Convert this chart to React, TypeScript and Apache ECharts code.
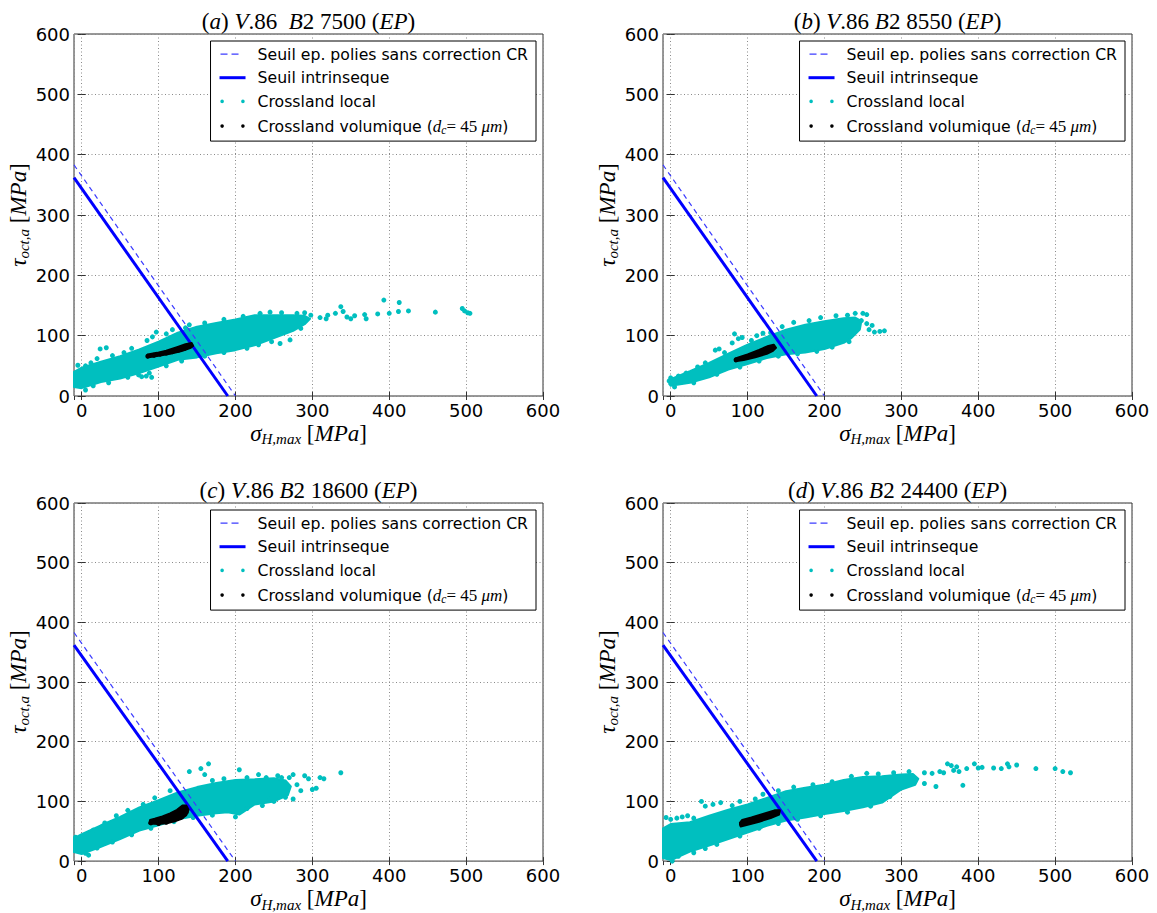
import React, { useEffect, useRef } from 'react';
import * as echarts from 'echarts';

// ---------- data (MPa) ----------
const seriesNames = ['Seuil ep. polies sans correction CR', 'Seuil intrinseque', 'Crossland local', 'Crossland volumique'];
const panelKeys = ['a', 'b', 'c', 'd'];
const panelRuns = ['7500', '8550', '18600', '24400'];
const panelSeps = ['  ', ' ', ' ', ' '];
const yTickValues = [0, 100, 200, 300, 400, 500, 600];

const dashedLine = [[-10, 383], [200, 0]];
const solidLine = [[-10, 362], [190, 0]];

// dense core outline of the local Crossland cloud
const bandA = [[-10, 40], [0, 47], [25, 57], [50, 66], [75, 77], [100, 90], [125, 105], [150, 115], [175, 121], [200, 127], [225, 134], [250, 134], [275, 134], [290, 133], [297, 128], [290, 119], [275, 108], [250, 96], [225, 84], [200, 76], [175, 71], [150, 64], [125, 60], [100, 49], [75, 38], [50, 29], [25, 23], [0, 13], [-10, 15]];
const localA = [[-5, 51], [5, 50], [12, 55], [20, 62], [24, 78], [32, 80], [40, 67], [55, 72], [65, 79], [85, 92], [92, 98], [97, 106], [110, 103], [118, 110], [135, 113], [140, 118], [160, 121], [185, 127], [210, 132], [232, 137], [245, 139], [260, 138], [280, 137], [290, 138], [298, 134],
  [5, 10], [15, 17], [35, 22], [60, 31], [74, 35], [78, 32], [84, 33], [91, 31], [88, 38], [110, 50], [130, 58], [160, 66], [185, 72], [215, 79], [230, 85], [247, 90], [258, 87], [271, 93], [285, 112],
  [310, 130], [318, 128], [320, 134], [330, 137], [337, 148], [340, 140], [345, 131], [350, 128], [355, 133], [368, 135], [370, 128], [385, 136], [393, 159], [400, 137], [412, 140], [413, 155], [425, 141], [460, 139], [495, 145], [498, 141], [502, 138], [505, 137]];
const volA = [[86, 66], [94, 67.6], [102, 69.3], [110, 71.3], [118, 73.5], [126, 76], [134, 79], [141, 82.5]];
const volShapeA = [[85, 64], [100, 66.5], [115, 70], [130, 74.5], [140, 79], [145, 83], [143, 88], [135, 86], [125, 81.5], [110, 75], [98, 71.5], [86, 69]];

const bandB = [[-2, 20], [0, 28], [25, 41], [50, 55], [75, 70], [100, 85], [125, 98], [150, 110], [175, 118], [200, 124], [225, 129], [240, 130], [248, 124], [246, 110], [235, 96], [225, 88], [200, 78], [175, 72], [150, 69], [125, 63], [100, 53], [75, 44], [50, 31], [25, 22], [0, 17]];
const localB = [[0, 30], [-2, 25], [10, 33], [20, 38], [35, 48], [45, 55], [58, 76], [63, 78], [70, 72], [80, 88], [83, 103], [88, 95], [93, 97], [105, 92], [112, 100], [120, 104], [130, 105], [145, 115], [160, 122], [180, 125], [195, 130], [215, 133], [230, 134], [240, 137], [250, 137], [255, 135], [248, 125], [255, 120], [262, 117], [265, 106], [272, 107], [278, 108], [258, 110],
  [5, 15], [30, 22], [60, 36], [90, 48], [115, 58], [140, 66], [165, 70], [190, 74], [210, 81], [232, 90]];
const volB = [[85, 60], [93, 62.3], [101, 65], [109, 68], [117, 71.3], [125, 75], [132, 79]];
const volShapeB = [[84, 57.5], [95, 59.5], [110, 64], [125, 70], [133, 75], [137, 80], [134, 85], [127, 83], [115, 76.5], [100, 69], [88, 64], [84, 62]];

const bandC = [[-10, 38], [0, 45], [25, 60], [50, 74], [75, 90], [100, 102], [125, 115], [150, 124], [175, 131], [200, 136], [225, 137], [250, 139], [265, 135], [272, 125], [268, 110], [250, 100], [225, 95], [205, 78], [190, 82], [175, 80], [150, 76], [125, 70], [100, 60], [75, 51], [50, 37], [25, 24], [0, 12], [-10, 15]];
const localC = [[-8, 40], [5, 13], [9, 10], [15, 52], [30, 64], [45, 76], [60, 85], [80, 95], [95, 106], [115, 118], [140, 150], [155, 155], [165, 163], [160, 145], [170, 135], [185, 138], [205, 153], [215, 140], [230, 145], [240, 140], [255, 143], [260, 140], [270, 140], [275, 145], [290, 143], [295, 138], [300, 120], [305, 122], [310, 140], [315, 138], [337, 148], [265, 107], [275, 104], [245, 105], [250, 100], [285, 118], [280, 128],
  [20, 22], [40, 32], [65, 44], [90, 55], [120, 66], [145, 73], [170, 77], [200, 74], [215, 88], [235, 93]];
const volC = [[90, 64], [100, 63], [110, 65], [120, 69], [130, 74], [136, 82], [133, 90]];
const volShapeC = [[88, 63], [100, 62], [112, 64], [122, 67], [130, 71], [136, 77], [139, 86], [136, 93], [131, 93], [124, 86], [115, 80], [105, 75], [95, 71], [89, 69]];

const bandD = [[-10, 55], [0, 62], [25, 65], [50, 76], [75, 86], [100, 95], [125, 106], [150, 117], [175, 123], [200, 128], [225, 136], [250, 141], [275, 142], [300, 145], [315, 146], [322, 138], [318, 128], [300, 120], [275, 98], [250, 90], [225, 84], [200, 79], [175, 73], [150, 68], [125, 59], [100, 48], [75, 37], [50, 26], [25, 16], [5, 4], [0, 2], [-10, 5]];
const localD = [[-6, 73], [0, 70], [8, 72], [15, 74], [22, 76], [30, 72], [40, 100], [45, 92], [55, 95], [65, 98], [80, 93], [90, 100], [110, 104], [120, 112], [140, 118], [160, 124], [185, 128], [210, 133], [235, 142], [255, 147], [270, 146], [290, 148], [310, 150], [305, 140], [315, 142],
  [2, 0], [10, 8], [30, 14], [45, 21], [60, 28], [90, 42], [115, 55], [140, 63], [165, 70], [195, 76], [230, 82], [260, 92], [285, 108], [330, 130],
  [330, 148], [340, 147], [345, 125], [350, 150], [355, 148], [360, 163], [365, 160], [368, 152], [372, 158], [375, 150], [380, 127], [385, 155], [395, 163], [400, 156], [405, 157], [420, 156], [430, 155], [438, 163], [440, 158], [450, 161], [475, 155], [500, 155], [510, 150], [520, 148]];
const volD = [[92, 62], [100, 65], [110, 69], [120, 73], [130, 77], [139, 82]];
const volShapeD = [[91, 58], [100, 61], [115, 66], [130, 72], [141, 78], [142, 85], [135, 85], [120, 79], [105, 73], [93, 69], [90, 64]];

const bands = [bandA, bandB, bandC, bandD];
const locals = [localA, localB, localC, localD];
const vols = [volA, volB, volC, volD];
const volShapes = [volShapeA, volShapeB, volShapeC, volShapeD];

// ---------- styling / layout ----------
const W = 1157;
const H = 913;
const CYAN = '#00bfbf';
const BLUE = '#0000ff';
const DASH_BLUE = '#3d3dff';
const SANS = 'DejaVu Sans';
const SERIF = 'Liberation Serif';
const grids = [
  { left: 74, top: 34, width: 469, height: 362 },
  { left: 663, top: 34, width: 469, height: 362 },
  { left: 74, top: 503, width: 469, height: 363 },
  { left: 663, top: 503, width: 469, height: 363 },
];

const mathRich = (size: number, lh: number, sub: number, drop: number) => ({
  p: { fontFamily: SERIF, fontSize: size, lineHeight: lh, fontWeight: 'normal', color: '#000' },
  i: { fontFamily: SERIF, fontSize: size, lineHeight: lh, fontWeight: 'normal', fontStyle: 'italic', color: '#000' },
  s: { fontFamily: SERIF, fontSize: sub, lineHeight: lh - drop * 2, padding: [drop * 2, 0, 0, 0], fontWeight: 'normal', fontStyle: 'italic', color: '#000' },
});

const legendRich = {
  mi: { fontFamily: SERIF, fontSize: 17, lineHeight: 18, fontStyle: 'italic', color: '#000' },
  mr: { fontFamily: SERIF, fontSize: 17, lineHeight: 18, color: '#000' },
  sb: { fontFamily: SERIF, fontSize: 11.5, lineHeight: 10, padding: [8, 0, 0, 0], fontStyle: 'italic', color: '#000' },
};

const ICON_DASH = 'path://M0,0M26,14M1,6.4h7v1.3h-7zM12,6.4h7v1.3h-7z';
const ICON_SOLID = 'path://M0,0M26,14M0,5.5h26v3h-26z';
const ICON_DOTS = 'path://M0,0M26,14M0.8,7a1.8,1.8 0 1,0 3.6,0a1.8,1.8 0 1,0 -3.6,0zM21.6,7a1.8,1.8 0 1,0 3.6,0a1.8,1.8 0 1,0 -3.6,0z';

const polygonSeries = (name: string, pts: number[][], color: string, z: number, axes: any) => ({
  ...axes, type: 'custom', name, data: pts, z, silent: true,
  renderItem: (params: any, api: any) => {
    if (params.dataIndex !== 0) return null;
    return {
      type: 'polygon',
      shape: { points: pts.map((p) => api.coord(p)) },
      style: { fill: color, stroke: color, lineWidth: 2, lineJoin: 'round' },
    };
  },
});

function buildOption() {
  const title: any[] = [];
  const xAxis: any[] = [];
  const yAxis: any[] = [];
  const legend: any[] = [];
  const series: any[] = [];

  grids.forEach((g, i) => {
    title.push({
      text: `{p|(}{i|${panelKeys[i]}}{p|) }{i|V}{p|.86${panelSeps[i]}}{i|B}{p|2 ${panelRuns[i]} (}{i|EP}{p|)}`,
      left: g.left + g.width / 2,
      top: g.top - 26,
      textAlign: 'center',
      padding: 0,
      textStyle: { fontWeight: 'normal', rich: mathRich(23, 26, 15, 5) },
    });

    const xBase = {
      gridIndex: i, type: 'value', min: -10, max: 600, splitNumber: 6,
      axisLine: { show: false },
      axisTick: { show: true, inside: true, length: 4, lineStyle: { color: '#333', width: 1 } },
    };
    xAxis.push({
      ...xBase,
      position: 'bottom',
      axisLabel: {
        showMinLabel: false, fontFamily: SANS, fontSize: 18, color: '#000', margin: 5,
        formatter: (v: number) => (v < 0 ? '' : String(v)),
      },
      splitLine: { show: true, lineStyle: { color: '#8a8a8a', type: [1, 2.5], width: 1 } },
      name: '{i|σ}{s|H,max}{p| [}{i|MPa}{p|]}',
      nameLocation: 'middle',
      nameGap: 18,
      nameTextStyle: { rich: mathRich(23, 28, 15, 6) },
    });
    xAxis.push({ ...xBase, position: 'top', axisLabel: { show: false }, splitLine: { show: false } });

    const yBase = {
      gridIndex: i, type: 'value', min: yTickValues[0], max: yTickValues[yTickValues.length - 1], interval: 100,
      axisLine: { show: false },
      axisTick: { show: true, inside: true, length: 4, lineStyle: { color: '#333', width: 1 } },
    };
    yAxis.push({
      ...yBase,
      position: 'left',
      axisLabel: { fontFamily: SANS, fontSize: 18, color: '#000', margin: 4 },
      splitLine: { show: true, lineStyle: { color: '#8a8a8a', type: [1, 2.5], width: 1 } },
      name: '{i|τ}{s|oct,a}{p| [}{i|MPa}{p|]}',
      nameLocation: 'middle',
      nameRotate: 90,
      nameGap: 40,
      nameTextStyle: { rich: mathRich(23, 28, 15, 6) },
    });
    yAxis.push({ ...yBase, position: 'right', axisLabel: { show: false }, splitLine: { show: false } });

    legend.push({
      orient: 'vertical',
      right: W - (g.left + g.width) + 7,
      top: g.top + 7,
      itemWidth: 26,
      itemHeight: 14,
      itemGap: 5.7,
      padding: [4, 8, 5, 9],
      backgroundColor: '#fff',
      borderColor: '#000',
      borderWidth: 1,
      borderRadius: 0,
      selectedMode: false,
      z: 10,
      textStyle: { fontFamily: SANS, fontSize: 15.7, color: '#000', lineHeight: 18, padding: [0, 0, 0, 7], rich: legendRich },
      formatter: (name: string) => (name === seriesNames[3] ? `${name} ({mi|d}{sb|c}{mr|= 45 }{mi|μm})` : name),
      data: [
        { name: seriesNames[0], icon: ICON_DASH, itemStyle: { color: DASH_BLUE, borderWidth: 0 } },
        { name: seriesNames[1], icon: ICON_SOLID, itemStyle: { color: BLUE, borderWidth: 0 } },
        { name: seriesNames[2], icon: ICON_DOTS, itemStyle: { color: CYAN, borderWidth: 0 } },
        { name: seriesNames[3], icon: ICON_DOTS, itemStyle: { color: '#000', borderWidth: 0 } },
      ],
    });

    const axes = { xAxisIndex: 2 * i, yAxisIndex: 2 * i };
    series.push({
      ...axes, type: 'line', name: seriesNames[0], data: dashedLine, symbol: 'none', z: 5,
      lineStyle: { color: DASH_BLUE, width: 1.2, type: [5, 4] }, itemStyle: { color: DASH_BLUE },
    });
    series.push({
      ...axes, type: 'line', name: seriesNames[1], data: solidLine, symbol: 'none', z: 5,
      lineStyle: { color: BLUE, width: 3 }, itemStyle: { color: BLUE },
    });
    series.push({
      ...axes, type: 'scatter', name: seriesNames[2], data: locals[i], symbolSize: 5, z: 3,
      itemStyle: { color: CYAN, opacity: 1 },
    });
    series.push(polygonSeries(seriesNames[2], bands[i], CYAN, 2, axes));
    series.push({
      ...axes, type: 'scatter', name: seriesNames[3], data: vols[i], symbolSize: 5, z: 7,
      itemStyle: { color: '#000', opacity: 1 },
    });
    series.push(polygonSeries(seriesNames[3], volShapes[i], '#000', 6, axes));
  });

  return {
    animation: false,
    backgroundColor: '#fff',
    grid: grids.map((g) => ({ ...g, show: true, borderColor: '#333', borderWidth: 1, backgroundColor: 'transparent', containLabel: false })),
    title, xAxis, yAxis, legend, series,
  };
}

export default function App() {
  const ref = useRef<HTMLDivElement>(null);
  useEffect(() => {
    if (!ref.current) return;
    const chart = echarts.init(ref.current, undefined, { renderer: 'svg' });
    chart.setOption(buildOption() as any);
    return () => chart.dispose();
  }, []);
  return <div ref={ref} style={{ position: 'absolute', left: 0, top: 0, width: W, height: H, background: '#fff' }} />;
}
